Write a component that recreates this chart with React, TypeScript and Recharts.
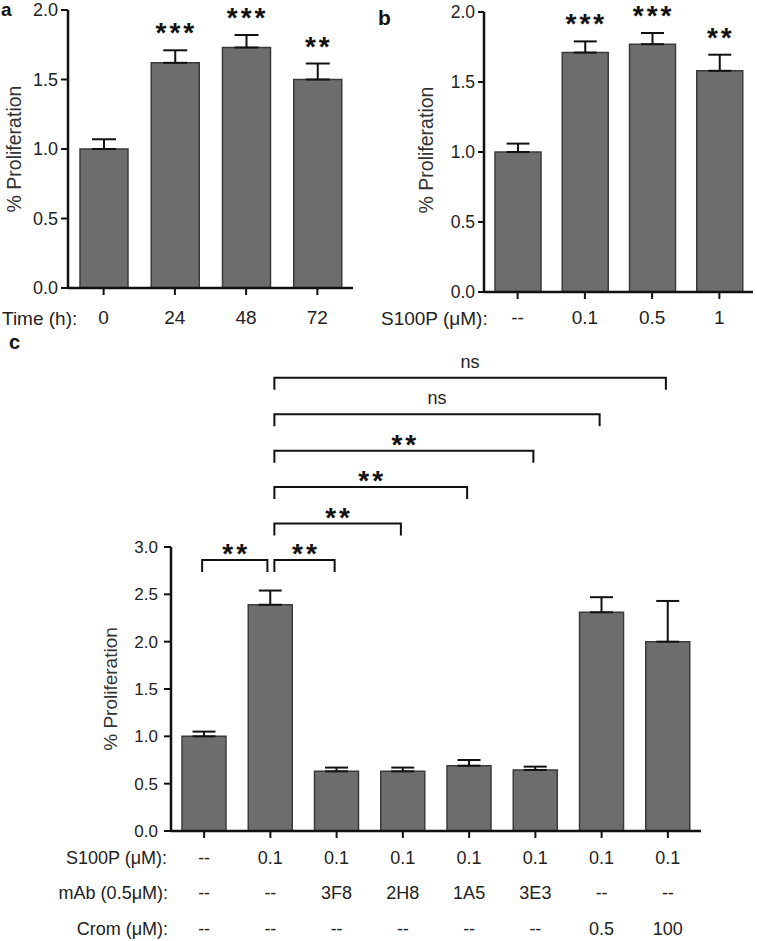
import React from 'react';
import { BarChart, Bar, XAxis, YAxis, ErrorBar, ReferenceLine, ReferenceDot } from 'recharts';

const FONT = '"Liberation Sans", Arial, Helvetica, sans-serif';
const INK = '#111';
const TEXT = '#222';
const BAR_FILL = '#6d6d6d';
const BAR_EDGE = '#3b3b3b';

// a: proliferation over time
const timeLabels = ['0', '24', '48', '72'];
const timeMeans = [1.0, 1.62, 1.73, 1.5];
const timeErrs = [0.07, 0.09, 0.09, 0.115];
const timeSig = ['', '***', '***', '**'];

// b: S100P dose
const doseLabels = ['--', '0.1', '0.5', '1'];
const doseMeans = [1.0, 1.71, 1.77, 1.58];
const doseErrs = [0.06, 0.08, 0.08, 0.115];
const doseSig = ['', '***', '***', '**'];

// c: blocking antibodies / cromolyn
const groupIds = ['g1', 'g2', 'g3', 'g4', 'g5', 'g6', 'g7', 'g8'];
const s100pRow = ['--', '0.1', '0.1', '0.1', '0.1', '0.1', '0.1', '0.1'];
const mAbRow = ['--', '--', '3F8', '2H8', '1A5', '3E3', '--', '--'];
const cromRow = ['--', '--', '--', '--', '--', '--', '0.5', '100'];
const blockMeans = [1.0, 2.39, 0.63, 0.63, 0.69, 0.645, 2.31, 2.0];
const blockErrs = [0.05, 0.15, 0.04, 0.04, 0.06, 0.035, 0.16, 0.43];

// comparisons drawn above panel c (indices into groupIds)
const brackets = [
  { from: 0, to: 1, tier: 0, label: '**' },
  { from: 1, to: 2, tier: 0, label: '**' },
  { from: 1, to: 3, tier: 1, label: '**' },
  { from: 1, to: 4, tier: 2, label: '**' },
  { from: 1, to: 5, tier: 3, label: '**' },
  { from: 1, to: 6, tier: 4, label: 'ns' },
  { from: 1, to: 7, tier: 5, label: 'ns' },
];
const BRACKET_BASE = 2.863;
const BRACKET_STEP = 0.385;

const ticksAB = [0, 0.5, 1, 1.5, 2];
const ticksC = [0, 0.5, 1, 1.5, 2, 2.5, 3];

const timeData = timeLabels.map((name, i) => ({ name, mean: timeMeans[i], err: [0, timeErrs[i]], sig: timeSig[i] }));
const doseData = doseLabels.map((name, i) => ({ name, mean: doseMeans[i], err: [0, doseErrs[i]], sig: doseSig[i] }));
const blockData = groupIds.map((name, i) => ({ name, mean: blockMeans[i], err: [0, blockErrs[i]] }));

const fmt = (v: number) => v.toFixed(1);

// asterisks sit high in the em box, so the baseline goes well below the visual centre
const starText = (text: string, x: number, centerY: number) => (
  <text
    x={x + 1.5}
    y={centerY + 15}
    textAnchor="middle"
    fontSize={28}
    fontWeight={700}
    fill={INK}
    fontFamily={FONT}
    letterSpacing={3}
  >
    {text}
  </text>
);

const sigShape = (text: string) => (p: any) => starText(text, p.cx, p.cy - 23);

const bracketShape = (b: { from: number; to: number; label: string }) => (p: any) => {
  const l = p.x1 + (b.from === 1 ? 4 : -2);
  const r = p.x2 - (b.to === 1 ? 3 : 2);
  const y = p.y1;
  const mid = (l + r) / 2;
  return (
    <g>
      <path d={`M${l},${y + 12}V${y}H${r}V${y + 12}`} fill="none" stroke={INK} strokeWidth={2} />
      {b.label === 'ns' ? (
        <text x={mid} y={y - 10} textAnchor="middle" fontSize={18} fill={TEXT} fontFamily={FONT}>
          ns
        </text>
      ) : (
        starText(b.label, mid, y - 12)
      )}
    </g>
  );
};

const ROW_OFFSETS = [25.5, 60.5, 97];

const ConditionTick = (props: any) => {
  const { x, y, payload } = props;
  const i = groupIds.indexOf(payload.value);
  const rows = [s100pRow[i], mAbRow[i], cromRow[i]];
  return (
    <g>
      {rows.map((t, k) => (
        <text key={k} x={x} y={y + ROW_OFFSETS[k]} textAnchor="middle" fontSize={18} fill={TEXT}>
          {t}
        </text>
      ))}
    </g>
  );
};

function SmallPanel(props: {
  data: any[];
  margin: any;
  yWidth: number;
  xHeight: number;
  xTickMargin: number;
  yTickSize: number;
  yTickMargin: number;
  yFont: number;
  barSize: number;
  cap: number;
}) {
  const { data } = props;
  return (
    <BarChart width={props.margin.w} height={330} data={data} margin={props.margin.m}>
      <XAxis
        dataKey="name"
        interval={0}
        height={props.xHeight}
        tickSize={7}
        tickMargin={props.xTickMargin}
        axisLine={{ stroke: INK, strokeWidth: 2.5 }}
        tickLine={{ stroke: INK, strokeWidth: 2 }}
        tick={{ fill: TEXT, fontSize: 19 }}
      />
      <YAxis
        domain={[0, 2]}
        ticks={ticksAB}
        interval={0}
        tickFormatter={fmt}
        width={props.yWidth}
        tickSize={props.yTickSize}
        tickMargin={props.yTickMargin}
        axisLine={{ stroke: INK, strokeWidth: 2.5 }}
        tickLine={{ stroke: INK, strokeWidth: 2 }}
        tick={{ fill: TEXT, fontSize: props.yFont }}
      />
      <Bar dataKey="mean" fill={BAR_FILL} stroke={BAR_EDGE} strokeWidth={1.5} barSize={props.barSize} isAnimationActive={false}>
        <ErrorBar dataKey="err" width={props.cap} stroke={INK} strokeWidth={2} direction="y" isAnimationActive={false} />
      </Bar>
      {data.map((d) =>
        d.sig ? (
          <ReferenceDot
            key={d.name}
            x={d.name}
            y={d.mean + d.err[1]}
            r={0}
            ifOverflow="visible"
            shape={sigShape(d.sig)}
          />
        ) : null
      )}
    </BarChart>
  );
}

export default function App() {
  return (
    <div style={{ position: 'absolute', left: 0, top: 0, width: 757, height: 941, background: '#fff', fontFamily: FONT }}>
      <div style={{ position: 'absolute', left: 0, top: 0 }}>
        <SmallPanel
          data={timeData}
          margin={{ w: 378, m: { top: 10, right: 25, bottom: 10, left: 0 } }}
          yWidth={68}
          xHeight={32}
          xTickMargin={16}
          yTickSize={7}
          yTickMargin={3}
          yFont={18}
          barSize={48}
          cap={12}
        />
      </div>
      <div style={{ position: 'absolute', left: 378, top: 0 }}>
        <SmallPanel
          data={doseData}
          margin={{ w: 379, m: { top: 12, right: 4, bottom: 10, left: 0 } }}
          yWidth={106}
          xHeight={28}
          xTickMargin={12}
          yTickSize={6}
          yTickMargin={3}
          yFont={17.5}
          barSize={46}
          cap={11.5}
        />
      </div>
      <div style={{ position: 'absolute', left: 0, top: 330 }}>
        <BarChart width={757} height={611} data={blockData} margin={{ top: 217, right: 56, bottom: 10, left: 0 }}>
          <XAxis
            dataKey="name"
            interval={0}
            height={100}
            tickSize={7}
            tickMargin={0}
            axisLine={{ stroke: INK, strokeWidth: 2.5 }}
            tickLine={{ stroke: INK, strokeWidth: 2 }}
            tick={<ConditionTick />}
          />
          <YAxis
            domain={[0, 3]}
            ticks={ticksC}
            interval={0}
            tickFormatter={fmt}
            width={171}
            tickSize={7}
            tickMargin={6}
            axisLine={{ stroke: INK, strokeWidth: 2.5 }}
            tickLine={{ stroke: INK, strokeWidth: 2 }}
            tick={{ fill: TEXT, fontSize: 17 }}
          />
          <Bar dataKey="mean" fill={BAR_FILL} stroke={BAR_EDGE} strokeWidth={1.5} barSize={44} isAnimationActive={false}>
            <ErrorBar dataKey="err" width={11.5} stroke={INK} strokeWidth={2} direction="y" isAnimationActive={false} />
          </Bar>
          {brackets.map((b, i) => {
            const level = BRACKET_BASE + b.tier * BRACKET_STEP;
            return (
              <ReferenceLine
                key={i}
                segment={[
                  { x: groupIds[b.from], y: level },
                  { x: groupIds[b.to], y: level },
                ]}
                ifOverflow="visible"
                stroke={INK}
                shape={bracketShape(b)}
              />
            );
          })}
        </BarChart>
      </div>
      <svg
        width={757}
        height={941}
        style={{ position: 'absolute', left: 0, top: 0, pointerEvents: 'none' }}
        fontFamily={FONT}
      >
        <text x={1} y={16} fontSize={19} fontWeight={700} fill={INK}>a</text>
        <text x={378} y={25} fontSize={21} fontWeight={700} fill={INK}>b</text>
        <text x={9} y={349} fontSize={20} fontWeight={700} fill={INK}>c</text>

        <text transform="translate(14,149) rotate(-90)" textAnchor="middle" dominantBaseline="central" fontSize={19.5} fill="#333">
          % Proliferation
        </text>
        <text transform="translate(426,150) rotate(-90)" textAnchor="middle" dominantBaseline="central" fontSize={19.5} fill="#333">
          % Proliferation
        </text>
        <text transform="translate(110,689) rotate(-90)" textAnchor="middle" dominantBaseline="central" fontSize={19} fill="#333">
          % Proliferation
        </text>

        <text x={2} y={325} fontSize={19} fill={TEXT}>Time (h):</text>
        <text x={381} y={325} fontSize={19} fill={TEXT}>S100P (μM):</text>

        <text x={167} y={863.5} textAnchor="end" fontSize={18} fill={TEXT}>S100P (μM):</text>
        <text x={168} y={898.5} textAnchor="end" fontSize={18} fill={TEXT}>mAb (0.5μM):</text>
        <text x={168} y={935} textAnchor="end" fontSize={18} fill={TEXT}>Crom (μM):</text>
      </svg>
    </div>
  );
}
